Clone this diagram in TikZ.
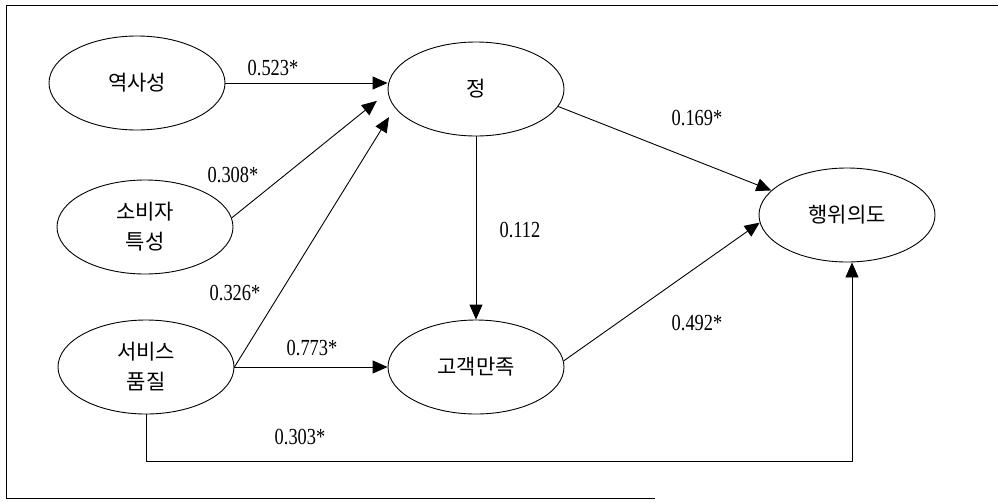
\documentclass[tikz,border=0pt]{standalone}
\usepackage{fontspec}
\newfontfamily\kr{Noto Sans CJK KR}
\newfontfamily\lab[FakeStretch=0.8]{Liberation Serif}
\usetikzlibrary{shapes.geometric,arrows.meta}
\begin{document}
\begin{tikzpicture}[x=1pt,y=-1pt,
  var/.style={ellipse,draw,line width=0.9pt,minimum width=176pt,minimum height=94pt,inner sep=0pt,align=center,font=\kr\fontsize{21}{30}\selectfont},
  arr/.style={-{Triangle[length=15pt,width=13pt]},line width=0.9pt},
  lbl/.style={font=\lab\fontsize{23}{23}\selectfont,inner sep=0pt}]
\useasboundingbox (0,0) rectangle (998,501);
\draw[line width=1pt] (998,5) -- (6,5) -- (6,498) -- (655,498);
\node[var] (yeok) at (137,83) {역사성};
\node[var] (sobi) at (145,227) {소비자\\특성};
\node[var] (serv) at (146,367) {서비스\\품질};
\node[var] (jeong) at (476,89) {정};
\node[var] (gogaek) at (476,367) {고객만족};
\node[var] (haeng) at (847,215) {행위의도};
\draw[arr] (yeok.east) -- (yeok.east -| jeong.west);
\draw[arr,shorten >=14pt] (sobi.6) -- (jeong.182.6);
\draw[arr,shorten >=11pt] (serv.east) -- (jeong.193.7);
\draw[arr] (serv.east) -- (gogaek.west);
\draw[arr] (jeong.south) -- (gogaek.north);
\draw[arr] (jeong.-12.5) -- (haeng.162);
\draw[arr] (gogaek.4) -- (haeng.185);
\draw[arr] (serv.south) -- ++(0,47) -| ([xshift=5pt]haeng.south);
\node[lbl] (l1) at (273,68) {0.523*};
\node[lbl] (l2) at (233,175) {0.308*};
\node[lbl] (l3) at (235,293) {0.326*};
\node[lbl] (l4) at (312,348) {0.773*};
\node[lbl] (l5) at (300,437) {0.303*};
\node[lbl] (l6) at (520,230) {0.112};
\node[lbl] (l7) at (697,118) {0.169*};
\node[lbl] (l8) at (697,323) {0.492*};
\end{tikzpicture}
\end{document}
